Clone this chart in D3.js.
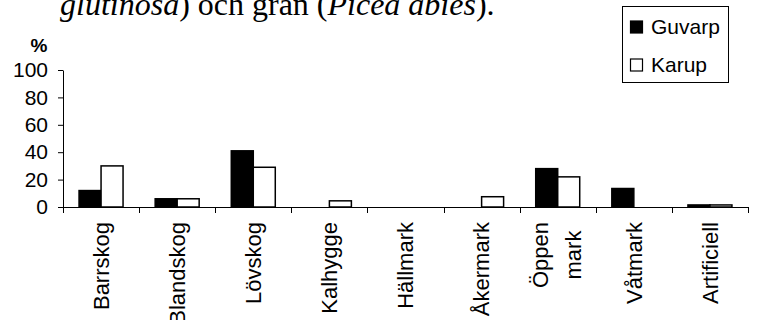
<!DOCTYPE html>
<html>
<head>
<meta charset="utf-8">
<script src="https://cdn.jsdelivr.net/npm/d3@7"></script>
<style>
  html, body { margin: 0; padding: 0; background: #fff; }
  svg { display: block; }
  text { font-family: Arial, "Liberation Sans", sans-serif; fill: #000; }
</style>
</head>
<body>
<svg id="chart" width="758" height="320"></svg>
<script>
// Land-cover categories and the share (%) in each study area
const categories = ["Barrskog", "Blandskog", "Lövskog", "Kalhygge", "Hällmark",
                    "Åkermark", "Öppen mark", "Våtmark", "Artificiell"];
const guvarp = [12, 6, 41, 0, 0, 0, 28, 13.5, 1.5];
const karup  = [30, 6, 29, 4.5, 0, 7.5, 22, 0, 1.5];
const seriesNames = ["Guvarp", "Karup"];
const seriesFill = ["#000", "#fff"];
const yTicks = [0, 20, 40, 60, 80, 100];

const svg = d3.select("#chart");
const plotLeft = 63, plotRight = 748, plotTop = 70, plotBottom = 207;
const tickSize = "21px", catSize = "22px";

// Caption line above the chart
const title = svg.append("text")
  .attr("x", 60).attr("y", 15)
  .style("font-family", "'Times New Roman', 'Liberation Serif', serif")
  .style("font-size", "32px");
title.append("tspan").style("font-style", "italic").text("glutinosa");
title.append("tspan").text(") och gran (");
title.append("tspan").style("font-style", "italic").text("Picea abies");
title.append("tspan").text(").");

const x = d3.scaleBand().domain(categories).range([plotLeft, plotRight]).padding(0);
const xs = d3.scaleBand().domain(seriesNames).range([0, x.bandwidth()])
  .paddingInner(0).paddingOuter(0.73);
const y = d3.scaleLinear().domain([0, 100]).range([plotBottom, plotTop]);

const rows = categories.map((c, i) => ({ cat: c, values: [guvarp[i], karup[i]] }));

// Bars
const groups = svg.append("g").selectAll("g").data(rows).join("g")
  .attr("transform", d => `translate(${x(d.cat)},0)`);
groups.selectAll("rect")
  .data(d => d.values.map((v, j) => ({ v, j })).filter(e => e.v > 0))
  .join("rect")
  .attr("x", e => xs(seriesNames[e.j]))
  .attr("width", xs.bandwidth())
  .attr("y", e => y(e.v))
  .attr("height", e => y(0) - y(e.v))
  .attr("fill", e => seriesFill[e.j])
  .attr("stroke", "#000")
  .attr("stroke-width", 1.5);

// Y axis
const yAxis = svg.append("g").attr("transform", `translate(${plotLeft},0)`)
  .call(d3.axisLeft(y).tickValues(yTicks).tickSize(5).tickSizeOuter(0).tickPadding(10));
yAxis.attr("font-size", null).attr("font-family", null);
yAxis.selectAll("text").style("font-size", tickSize);
yAxis.selectAll("line, path").attr("stroke", "#000");

svg.append("text").attr("x", 39).attr("y", 52).attr("text-anchor", "middle")
  .style("font-weight", "bold").style("font-size", "19px").text("%");

// X axis: baseline with ticks at category boundaries
const xg = svg.append("g");
xg.append("line").attr("x1", plotLeft).attr("x2", plotRight)
  .attr("y1", y(0) + 0.5).attr("y2", y(0) + 0.5).attr("stroke", "#000");
const bounds = categories.map(c => x(c)).concat([plotRight]);
xg.selectAll("line.tick").data(bounds).join("line").attr("class", "tick")
  .attr("x1", d => Math.round(d) + 0.5).attr("x2", d => Math.round(d) + 0.5)
  .attr("y1", y(0)).attr("y2", y(0) + 6).attr("stroke", "#000");

// Rotated category labels (multi-word labels wrap onto two lines)
const labelTop = 222;
categories.forEach(c => {
  const cx = x(c) + x.bandwidth() / 2;
  const parts = c.split(" ");
  const g = svg.append("g").attr("transform", `translate(${cx},${labelTop}) rotate(-90)`);
  if (parts.length === 1) {
    g.append("text").attr("text-anchor", "end").attr("dy", "0.35em")
      .style("font-size", catSize).text(c);
  } else {
    // first line sets the block length, later lines are centered on it
    const t1 = g.append("text").attr("text-anchor", "end").attr("dy", "0.35em")
      .attr("y", -17).style("font-size", catSize).text(parts[0]);
    const len = t1.node().getComputedTextLength();
    g.append("text").attr("text-anchor", "middle").attr("dy", "0.35em")
      .attr("x", -len / 2).attr("y", 16).style("font-size", catSize).text(parts[1]);
  }
});

// Legend
const lg = svg.append("g");
lg.append("rect").attr("x", 622.5).attr("y", 6.5).attr("width", 106).attr("height", 76)
  .attr("fill", "#fff").attr("stroke", "#000");
seriesNames.forEach((s, i) => {
  const yy = 27 + i * 38;
  lg.append("rect").attr("x", 630.5).attr("y", yy - 6).attr("width", 12).attr("height", 12)
    .attr("fill", seriesFill[i]).attr("stroke", "#000").attr("stroke-width", 1.2);
  lg.append("text").attr("x", 651).attr("y", yy).attr("dy", "0.35em")
    .style("font-size", "21px").text(s);
});
</script>
</body>
</html>
